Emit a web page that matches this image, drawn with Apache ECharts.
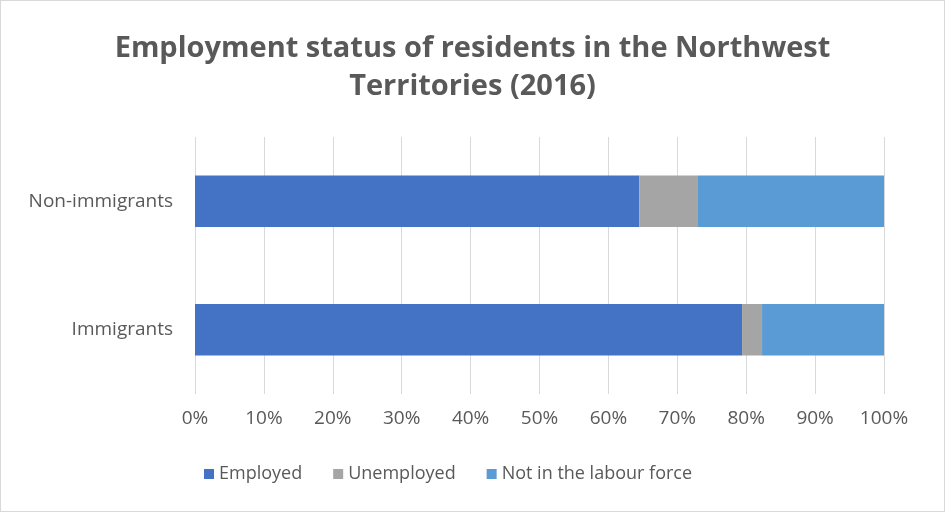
<!DOCTYPE html>
<html>
<head>
<meta charset="utf-8">
<script src="https://cdn.jsdelivr.net/npm/echarts@6/dist/echarts.min.js"></script>
<style>
  html, body { margin: 0; padding: 0; background: #fff; }
  #chart { width: 945px; height: 512px; box-sizing: border-box; border: 1px solid #d9d9d9; }
</style>
</head>
<body>
<div id="chart"></div>
<script>
// Share of residents (%) by employment status
const categories = ['Immigrants', 'Non-immigrants'];
const employed = [79.4, 64.5];
const unemployed = [2.9, 8.5];
const notInLabourForce = [17.7, 27.0];
const seriesNames = ['Employed', 'Unemployed', 'Not in the labour force'];
const seriesColors = ['#4472C4', '#A5A5A5', '#5B9BD5'];

const textColor = '#595959';
const fontFamily = '"Open Sans", "Liberation Sans", sans-serif';

const chart = echarts.init(document.getElementById('chart'));
const values = [employed, unemployed, notInLabourForce];

chart.setOption({
  animation: false,
  title: {
    text: 'Employment status of residents in the Northwest\nTerritories (2016)',
    left: 'center',
    top: 24,
    textStyle: {
      color: textColor,
      fontSize: 29,
      fontWeight: 'bold',
      fontFamily: fontFamily,
      lineHeight: 38
    }
  },
  legend: {
    top: 459,
    left: 198,
    itemWidth: 10,
    itemHeight: 10,
    itemGap: 31,
    icon: 'rect',
    textStyle: { color: textColor, fontSize: 18, fontFamily: fontFamily },
    data: seriesNames
  },
  grid: { left: 194, right: 60, top: 136, height: 257 },
  xAxis: {
    type: 'value',
    min: 0,
    max: 100,
    interval: 10,
    axisLine: { show: false },
    axisTick: { show: false },
    splitLine: { lineStyle: { color: '#d9d9d9', width: 1 } },
    axisLabel: {
      formatter: '{value}%',
      color: textColor,
      fontSize: 19,
      fontFamily: fontFamily,
      margin: 15
    }
  },
  yAxis: {
    type: 'category',
    data: categories,
    axisLine: { show: false },
    axisTick: { show: false },
    axisLabel: { color: textColor, fontSize: 19, fontFamily: fontFamily, margin: 22 }
  },
  series: seriesNames.map((name, i) => ({
    name: name,
    type: 'bar',
    stack: 'total',
    barCategoryGap: '60%',
    itemStyle: { color: seriesColors[i] },
    data: values[i]
  }))
});
</script>
</body>
</html>
